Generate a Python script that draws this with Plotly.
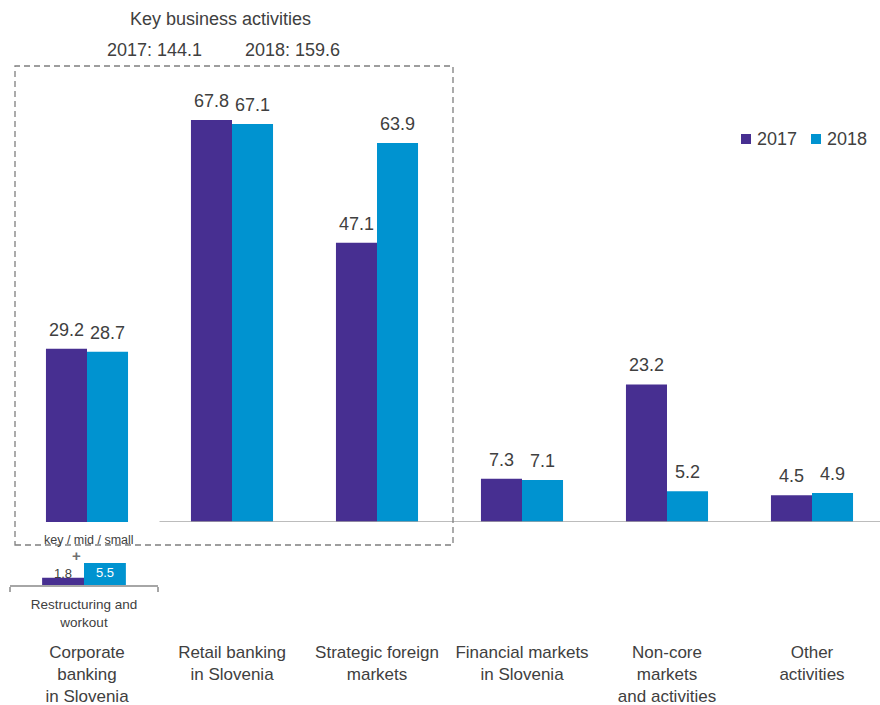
import plotly.graph_objects as go

W, H = 880, 705

# ---- data -------------------------------------------------------------
categories = [
    "Corporate<br>banking<br>in Slovenia",
    "Retail banking<br>in Slovenia",
    "Strategic foreign<br>markets",
    "Financial markets<br>in Slovenia",
    "Non-core<br>markets<br>and activities",
    "Other<br>activities",
]
values_2017 = [29.2, 67.8, 47.1, 7.3, 23.2, 4.5]
values_2018 = [28.7, 67.1, 63.9, 7.1, 5.2, 4.9]

restructuring_category = ["Restructuring and<br>workout"]
restructuring_2017 = [1.8]
restructuring_2018 = [5.5]

key_total_2017 = 144.1
key_total_2018 = 159.6

# ---- styling ----------------------------------------------------------
C2017 = "#472F91"
C2018 = "#0093D0"
TEXT = "#404040"
AXIS = "#A6A6A6"
FONT = "Liberation Sans, Arial, sans-serif"

# main value axis: baseline at 522 px, 5.93 px per unit
MAIN_BASE = 522
MAIN_SCALE = 5.93
# restructuring inset: baseline at 585 px, 4 px per unit
SUB_BASE = 585
SUB_TOP = 555
SUB_SCALE = 4.0

BARGAP = 0.434
CAT_PX = 145.0
BAR_OFF = CAT_PX * (1 - BARGAP) / 4


def px(x):
    return x / W


def py(y):
    return 1 - y / H


def paper_text(x, y, text, size, color=TEXT, **kw):
    d = dict(x=px(x), y=py(y), xref="paper", yref="paper", showarrow=False,
             xanchor="center", yanchor="middle", text=text,
             font=dict(size=size, color=color))
    d.update(kw)
    return d


fig = go.Figure()

fig.add_bar(x=categories, y=values_2017, name="2017", marker_color=C2017,
            marker_line_width=0, xaxis="x", yaxis="y", showlegend=False)
fig.add_bar(x=categories, y=values_2018, name="2018", marker_color=C2018,
            marker_line_width=0, xaxis="x", yaxis="y", showlegend=False)
fig.add_bar(x=restructuring_category, y=restructuring_2017, name="2017",
            marker_color=C2017, marker_line_width=0, xaxis="x2", yaxis="y2",
            showlegend=False)
fig.add_bar(x=restructuring_category, y=restructuring_2018, name="2018",
            marker_color=C2018, marker_line_width=0, xaxis="x2", yaxis="y2",
            showlegend=False)

annotations = []

# value labels above the main bars
for cat, v in zip(categories, values_2017):
    annotations.append(dict(x=cat, y=v, xref="x", yref="y", xshift=-BAR_OFF,
                            yshift=7, yanchor="bottom", showarrow=False,
                            text=f"{v:.1f}", font=dict(size=18, color=TEXT)))
for cat, v in zip(categories, values_2018):
    annotations.append(dict(x=cat, y=v, xref="x", yref="y", xshift=BAR_OFF,
                            yshift=7, yanchor="bottom", showarrow=False,
                            text=f"{v:.1f}", font=dict(size=18, color=TEXT)))

# restructuring labels
annotations.append(dict(x=restructuring_category[0], y=restructuring_2017[0],
                        xref="x2", yref="y2", xshift=-BAR_OFF, yshift=4,
                        yanchor="middle", showarrow=False,
                        text=f"{restructuring_2017[0]:.1f}",
                        font=dict(size=13, color=TEXT)))
annotations.append(dict(x=restructuring_category[0], y=restructuring_2018[0],
                        xref="x2", yref="y2", xshift=BAR_OFF, yshift=-9,
                        yanchor="middle", showarrow=False,
                        text=f"{restructuring_2018[0]:.1f}",
                        font=dict(size=13, color="white")))

# headings over the key business activities
annotations += [
    paper_text(220, 19, "Key business activities", 18),
    paper_text(154, 50, f"2017: {key_total_2017:.1f}", 18),
    paper_text(292, 50, f"2018: {key_total_2018:.1f}", 18),
    paper_text(89, 540, "key / mid / small", 12.5),
    paper_text(76, 555, "<b>+</b>", 15, color="#707070"),
]

# legend
legend_items = [("2017", C2017, 746), ("2018", C2018, 816)]
shapes = []
for label, col, cx in legend_items:
    shapes.append(dict(type="rect", xref="paper", yref="paper",
                       x0=px(cx - 5), x1=px(cx + 5), y0=py(144), y1=py(134),
                       fillcolor=col, line_width=0))
    annotations.append(paper_text(cx + 9, 139, label, 18, xanchor="left"))

# category axis line (starts after the corporate banking column)
shapes.append(dict(type="line", xref="x", yref="y", x0=0.5, x1=5.5, y0=0, y1=0,
                   line=dict(color=AXIS, width=1.5)))
for b in [0.5, 1.5, 2.5, 3.5, 4.5, 5.5]:
    shapes.append(dict(type="line", xref="x", yref="y", ysizemode="pixel",
                       yanchor=0, x0=b, x1=b, y0=0, y1=-6,
                       line=dict(color=AXIS, width=1.5)))

# dashed frame around key business activities
shapes.append(dict(type="rect", xref="paper", yref="paper",
                   x0=px(15), x1=px(453), y0=py(545), y1=py(66),
                   line=dict(color="#7F7F7F", width=1.3, dash="6px,4px"),
                   fillcolor="rgba(0,0,0,0)"))

fig.update_layout(
    width=W, height=H,
    margin=dict(l=0, r=0, t=0, b=0, autoexpand=False),
    paper_bgcolor="white", plot_bgcolor="white",
    barmode="group", bargap=BARGAP, bargroupgap=0,
    font=dict(family=FONT, color=TEXT),
    showlegend=False,
    xaxis=dict(domain=[0, 1], range=[-0.6, 5.469], type="category",
               showline=False, ticks="", showgrid=False, zeroline=False,
               automargin=False,
               ticklabelstandoff=118, tickfont=dict(size=17, color=TEXT),
               anchor="y", fixedrange=True),
    yaxis=dict(domain=[py(MAIN_BASE), 1],
               range=[0, MAIN_BASE / MAIN_SCALE], visible=False,
               automargin=False, anchor="x", fixedrange=True),
    xaxis2=dict(domain=[px(10), px(158)], range=[-0.5, 0.5], type="category",
                showline=True, linecolor=AXIS, linewidth=1.5,
                ticks="outside", tickson="boundaries", ticklen=5,
                tickcolor=AXIS, tickwidth=1.5, showgrid=False, zeroline=False,
                ticklabelstandoff=6, automargin=False,
                tickfont=dict(size=13.5, color=TEXT), anchor="y2",
                fixedrange=True),
    yaxis2=dict(domain=[py(SUB_BASE), py(SUB_TOP)],
                range=[0, (SUB_BASE - SUB_TOP) / SUB_SCALE], visible=False,
                automargin=False, anchor="x2", fixedrange=True),
    shapes=shapes,
    annotations=annotations,
)

fig.write_html("out.html")
